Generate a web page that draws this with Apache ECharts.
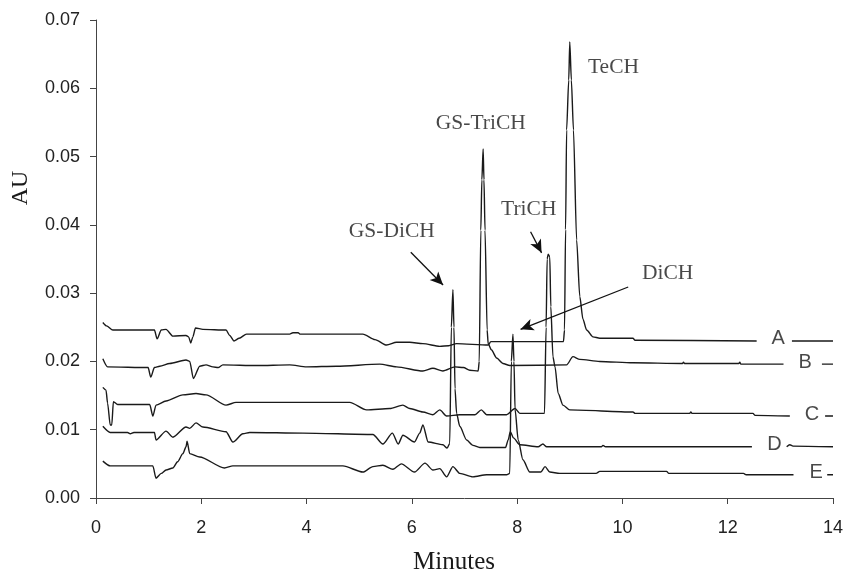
<!DOCTYPE html>
<html>
<head>
<meta charset="utf-8" />
<title>chromatogram</title>
<script src="https://cdn.jsdelivr.net/npm/echarts@6/dist/echarts.min.js"></script>
<style>
  html, body { margin: 0; padding: 0; background: #fff; }
  #main { width: 846px; height: 570px; }
</style>
</head>
<body>
<div id="main"></div>
<script type="text/javascript">
// traces: [minutes, AU]; '-' breaks the line where the trace letter sits
var traceA = [[0.13,0.0257],[0.2,0.0252],[0.32,0.0246],[1.11,0.0246],[1.16,0.0233],[1.24,0.0246],[1.33,0.0247],[1.46,0.0237],
  [1.71,0.0238],[1.76,0.0236],[1.80,0.0227],[1.84,0.0236],[1.89,0.0249],[2.03,0.0247],[2.47,0.0246],[2.54,0.0238],[2.62,0.0230],
  [2.72,0.0234],[2.86,0.0240],[3.68,0.0240],[3.74,0.0242],[3.84,0.0242],[3.88,0.0240],[5.07,0.0240],[5.30,0.0232],[5.52,0.0224],
  [5.71,0.0228],[5.96,0.0228],[6.21,0.0226],[6.53,0.0222],[6.70,0.0223],[6.85,0.0226],[7.45,0.0224],[7.50,0.0229],[8.20,0.0229],
  [8.88,0.0229],[8.90,0.0246],[8.92,0.0393],[8.94,0.0539],[8.98,0.0612],[9.00,0.0668],[9.03,0.0612],[9.07,0.0539],[9.13,0.0378],
  [9.19,0.0295],[9.25,0.0262],[9.32,0.0246],[9.44,0.0236],[9.57,0.0234],[10.20,0.0234],[10.24,0.0231],[12.55,0.0230],
  [12.9,'-'],[13.22,0.0230],[14,0.0230]];
var traceB = [[0.13,0.0204],[0.22,0.0192],[0.99,0.0191],[1.04,0.0177],[1.11,0.0191],[1.21,0.0193],[1.40,0.0197],[1.71,0.0202],
  [1.78,0.0200],[1.85,0.0175],[1.97,0.0193],[2.09,0.0195],[2.22,0.0192],[2.32,0.0191],[2.41,0.0195],[3.05,0.0194],[3.68,0.0195],
  [4.00,0.0192],[4.57,0.0193],[5.39,0.0196],[5.71,0.0192],[6.21,0.0186],[6.40,0.0190],[6.59,0.0186],[6.82,0.0192],[6.98,0.0191],
  [7.10,0.0187],[7.26,0.0186],[7.28,0.0200],[7.31,0.0392],[7.33,0.0466],[7.354,0.0511],[7.37,0.0466],[7.39,0.0392],[7.43,0.0246],
  [7.45,0.0226],[7.51,0.0217],[7.61,0.0205],[7.73,0.0197],[7.86,0.0194],[8.94,0.0195],[9.06,0.0207],[9.19,0.0203],[9.57,0.0200],
  [10.20,0.0198],[11.14,0.0197],[11.16,0.0199],[11.18,0.0197],[12.21,0.0197],[12.23,0.0199],[12.25,0.0196],[13.06,0.0196],
  [13.4,'-'],[13.79,0.0196],[14,0.0196]];
var traceC = [[0.13,0.0162],[0.19,0.0158],[0.22,0.0139],[0.27,0.0107],[0.30,0.0107],[0.33,0.0141],[0.41,0.0137],[1.02,0.0137],
  [1.08,0.0120],[1.14,0.0136],[1.33,0.0142],[1.65,0.0151],[1.90,0.0153],[2.09,0.0151],[2.47,0.0136],[2.66,0.0140],[4.82,0.0140],
  [5.14,0.0129],[5.58,0.0131],[5.83,0.0136],[5.96,0.0131],[6.21,0.0126],[6.40,0.0122],[6.53,0.0129],[6.66,0.0120],[6.91,0.0122],
  [7.20,0.0122],[7.32,0.0129],[7.42,0.0122],[7.80,0.0122],[7.96,0.0131],[8.05,0.0124],[8.52,0.0124],[8.55,0.0250],[8.57,0.0350],
  [8.59,0.0357],[8.62,0.0353],[8.64,0.0280],[8.68,0.0207],[8.72,0.0192],[8.78,0.0153],[8.87,0.0136],[9.00,0.0129],[10.20,0.0126],
  [10.24,0.0124],[11.28,0.0124],[11.30,0.0126],[11.32,0.0124],[12.48,0.0124],[12.52,0.0121],[13.18,0.0120],
  [13.5,'-'],[13.85,0.0120],[14,0.0120]];
var traceD = [[0.13,0.0105],[0.27,0.0096],[0.6,0.0096],[0.65,0.0094],[0.72,0.0096],[1.11,0.0096],[1.14,0.0085],[1.33,0.0098],
  [1.46,0.0089],[1.71,0.0104],[1.78,0.0102],[1.90,0.0110],[2.03,0.0104],[2.47,0.0097],[2.60,0.0082],[2.79,0.0094],[2.92,0.0096],
  [3.93,0.0095],[5.26,0.0093],[5.45,0.0079],[5.63,0.0095],[5.74,0.0079],[5.83,0.0092],[6.05,0.0082],[6.15,0.0095],[6.21,0.0107],
  [6.31,0.0082],[6.59,0.0078],[6.67,0.0073],[6.72,0.0080],[6.75,0.0250],[6.78,0.0305],[6.80,0.0250],[6.82,0.0160],[6.85,0.0124],
  [6.91,0.0105],[7.04,0.0085],[7.16,0.0077],[7.29,0.0074],[7.78,0.0074],[7.83,0.0085],[7.87,0.0097],[7.93,0.0088],[8.05,0.0078],
  [8.40,0.0075],[8.49,0.0079],[8.56,0.0075],[9.60,0.0075],[9.63,0.0077],[9.68,0.0075],[12.46,0.0075],
  [12.8,'-'],[13.12,0.0075],[13.18,0.0078],[13.24,0.0076],[14,0.0075]];
var traceE = [[0.13,0.0054],[0.27,0.0047],[1.08,0.0047],[1.14,0.0029],[1.24,0.0036],[1.33,0.0041],[1.46,0.0044],[1.55,0.0053],
  [1.65,0.0065],[1.71,0.0075],[1.73,0.0083],[1.78,0.0065],[1.97,0.0060],[2.44,0.0044],[2.60,0.0047],[4.69,0.0047],[5.07,0.0038],
  [5.26,0.0046],[5.45,0.0048],[5.64,0.0042],[5.80,0.0050],[6.05,0.0038],[6.25,0.0051],[6.40,0.0041],[6.53,0.0043],[6.66,0.0031],
  [6.78,0.0046],[6.91,0.0036],[7.16,0.0031],[7.42,0.0034],[7.80,0.0034],[7.86,0.0036],[7.89,0.0200],[7.92,0.0240],[7.94,0.0200],
  [7.96,0.0130],[8.02,0.0085],[8.11,0.0056],[8.24,0.0038],[8.45,0.0038],[8.53,0.0046],[8.62,0.0038],[8.81,0.0036],[9.50,0.0036],
  [9.57,0.0039],[10.84,0.0039],[10.88,0.0036],[12.30,0.0036],[12.35,0.0034],[13.25,0.0034],
  [13.6,'-'],[13.89,0.0034],[14,0.0034]];

var traces = [traceA, traceB, traceC, traceD, traceE];
var traceNames = ['A', 'B', 'C', 'D', 'E'];
var traceTagX = [12.96, 13.47, 13.60, 12.89, 13.68];

// peak names and arrows
var noteNames = ['TeCH', 'GS-TriCH', 'TriCH', 'GS-DiCH', 'DiCH'];
var noteAt = [[9.83, 0.0630], [7.31, 0.0549], [8.22, 0.0422], [5.62, 0.0391], [10.86, 0.0329]];
var arrowFrom = [[5.98, 0.0360], [8.255, 0.0390], [10.11, 0.0309]];
var arrowTo = [[6.593, 0.0312], [8.464, 0.0359], [8.065, 0.0247]];

var xTicks = [0, 14, 2];
var yTicks = [0, 0.07, 0.01];

var myChart = echarts.init(document.getElementById('main'));

var series = [];
for (var i = 0; i < traces.length; i++) {
    series.push({
        name: traceNames[i],
        type: 'line',
        data: traces[i],
        showSymbol: false,
        symbol: 'none',
        connectNulls: false,
        smooth: 0.25,
        smoothMonotone: 'x',
        lineStyle: { color: '#1a1a1a', width: 1.4 },
        silent: true
    });
}

// trace letters sit on the level of the trace's last value
var tagData = [];
for (var j = 0; j < traces.length; j++) {
    var last = traces[j][traces[j].length - 1];
    tagData.push([traceTagX[j], last[1], traceNames[j]]);
}
series.push({
    type: 'scatter',
    data: tagData,
    symbolSize: 0,
    silent: true,
    label: {
        show: true,
        position: 'inside',
        offset: [0, -2],
        formatter: function (p) { return p.value[2]; },
        fontFamily: 'Liberation Sans',
        fontSize: 20,
        color: '#1a1a1a'
    }
});

var noteData = [];
for (var k = 0; k < noteNames.length; k++) {
    noteData.push([noteAt[k][0], noteAt[k][1], noteNames[k]]);
}
var arrows = [];
for (var m = 0; m < arrowFrom.length; m++) {
    arrows.push([{ coord: arrowFrom[m] }, { coord: arrowTo[m] }]);
}
series.push({
    type: 'scatter',
    data: noteData,
    symbolSize: 0,
    silent: true,
    label: {
        show: true,
        position: 'inside',
        formatter: function (p) { return p.value[2]; },
        fontFamily: 'Liberation Serif',
        fontSize: 21.5,
        color: '#1a1a1a'
    },
    markLine: {
        silent: true,
        symbol: ['none', 'arrow'],
        symbolSize: [9, 13],
        label: { show: false },
        lineStyle: { color: '#111', width: 1.3, type: 'solid' },
        data: arrows
    }
});

var option = {
    backgroundColor: '#fff',
    animation: false,
    grid: { left: 96, right: 13, top: 20, bottom: 72 },
    xAxis: {
        type: 'value',
        min: xTicks[0], max: xTicks[1], interval: xTicks[2],
        axisLine: { show: true, lineStyle: { color: '#444', width: 1 } },
        axisTick: { show: true, length: 6, lineStyle: { color: '#444' } },
        axisLabel: { margin: 21, fontFamily: 'Liberation Sans', fontSize: 18, color: '#222' },
        splitLine: { show: false }
    },
    yAxis: {
        type: 'value',
        min: yTicks[0], max: yTicks[1], interval: yTicks[2],
        axisLine: { show: true, lineStyle: { color: '#444', width: 1 } },
        axisTick: { show: true, length: 6, lineStyle: { color: '#444' } },
        axisLabel: {
            margin: 16, fontFamily: 'Liberation Sans', fontSize: 18, color: '#222',
            formatter: function (v) { return v.toFixed(2); }
        },
        splitLine: { show: false }
    },
    graphic: [
        {
            type: 'text', x: 21, y: 188, rotation: Math.PI / 2,
            style: { text: 'AU', font: '24px "Liberation Serif"', fill: '#1a1a1a', align: 'center', verticalAlign: 'middle' }
        },
        {
            type: 'text', x: 454, y: 562,
            style: { text: 'Minutes', font: '25px "Liberation Serif"', fill: '#1a1a1a', align: 'center', verticalAlign: 'middle' }
        }
    ],
    series: series
};
myChart.setOption(option);
</script>
</body>
</html>
